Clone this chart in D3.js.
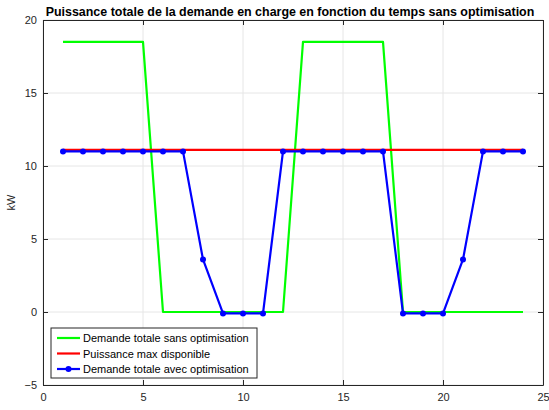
<!DOCTYPE html>
<html><head><meta charset="utf-8">
<script src="https://cdn.jsdelivr.net/npm/d3@7"></script>
<style>body{margin:0;background:#fff}svg{display:block}text{font-family:"Liberation Sans",Arial,sans-serif}</style>
</head><body><svg id="c" width="549" height="410"></svg>
<script>
const hours = [1,2,3,4,5,6,7,8,9,10,11,12,13,14,15,16,17,18,19,20,21,22,23,24];
const demandeSans = [18.5,18.5,18.5,18.5,18.5,0,0,0,0,0,0,0,18.5,18.5,18.5,18.5,18.5,0,0,0,0,0,0,0];
const puissanceMax = [11.1,11.1,11.1,11.1,11.1,11.1,11.1,11.1,11.1,11.1,11.1,11.1,11.1,11.1,11.1,11.1,11.1,11.1,11.1,11.1,11.1,11.1,11.1,11.1];
const demandeAvec = [11,11,11,11,11,11,11,3.6,-0.1,-0.1,-0.1,11,11,11,11,11,11,-0.1,-0.1,-0.1,3.6,11,11,11];
const xTicks = [0,5,10,15,20,25];
const yTicks = [-5,0,5,10,15,20];
const legendLabels = ["Demande totale sans optimisation","Puissance max disponible","Demande totale avec optimisation"];
const colors = ["#00ff00","#ff0000","#0000ff"];

const svg = d3.select("#c");
const L=43,R=543,T=20,B=385;
const x = d3.scaleLinear().domain([0,25]).range([L,R]);
const y = d3.scaleLinear().domain([-5,20]).range([B,T]);
const ax = "#262626";

// grid
const g = svg.append("g");
g.selectAll(".gx").data(xTicks).enter().append("line").attr("x1",d=>x(d)).attr("x2",d=>x(d)).attr("y1",T).attr("y2",B).attr("stroke","#e6e6e6").attr("stroke-width",1);
g.selectAll(".gy").data(yTicks).enter().append("line").attr("y1",d=>y(d)).attr("y2",d=>y(d)).attr("x1",L).attr("x2",R).attr("stroke","#e6e6e6").attr("stroke-width",1);

// lines
const line = d3.line().x((d,i)=>x(hours[i])).y(d=>y(d));
[demandeSans,puissanceMax,demandeAvec].forEach((s,k)=>{
  svg.append("path").datum(s).attr("d",line).attr("fill","none").attr("stroke",colors[k]).attr("stroke-width",2.2).attr("stroke-linejoin","round");
});
svg.selectAll(".pt").data(demandeAvec).enter().append("circle").attr("cx",(d,i)=>x(hours[i])).attr("cy",d=>y(d)).attr("r",3).attr("fill",colors[2]);

// axes
const xa = svg.append("g").attr("transform",`translate(0,${B})`).call(d3.axisBottom(x).tickValues(xTicks).tickSizeInner(-5).tickSizeOuter(0).tickPadding(8));
const ya = svg.append("g").attr("transform",`translate(${L},0)`).call(d3.axisLeft(y).tickValues(yTicks).tickSizeInner(-5).tickSizeOuter(0).tickPadding(6));
const xt = svg.append("g").attr("transform",`translate(0,${T})`).call(d3.axisTop(x).tickValues(xTicks).tickSizeInner(-5).tickSizeOuter(0).tickFormat(""));
const yr = svg.append("g").attr("transform",`translate(${R},0)`).call(d3.axisRight(y).tickValues(yTicks).tickSizeInner(-5).tickSizeOuter(0).tickFormat(""));
[xa,ya,xt,yr].forEach(a=>{a.selectAll("path,line").attr("stroke",ax);a.selectAll("text").attr("fill",ax).style("font-size","11px").style("font-family","Liberation Sans, Arial, sans-serif");});

// title & label
svg.append("text").attr("x",290).attr("y",16).attr("text-anchor","middle").style("font-weight","bold").style("font-size","12.45px").attr("fill","#000").text("Puissance totale de la demande en charge en fonction du temps sans optimisation");
svg.append("text").attr("transform",`translate(15,${(T+B)/2}) rotate(-90)`).attr("text-anchor","middle").style("font-size","11px").attr("fill",ax).text("kW");

// legend
const lg = svg.append("g");
lg.append("rect").attr("x",51).attr("y",328).attr("width",206).attr("height",50).attr("fill","#fff").attr("stroke",ax).attr("stroke-width",1);
legendLabels.forEach((t,i)=>{
  const yy = 338+i*15.5;
  lg.append("line").attr("x1",57).attr("x2",80).attr("y1",yy).attr("y2",yy).attr("stroke",colors[i]).attr("stroke-width",2.2);
  if(i===2) lg.append("circle").attr("cx",68.5).attr("cy",yy).attr("r",3).attr("fill",colors[i]);
  lg.append("text").attr("x",83).attr("y",yy+4).style("font-size","11px").attr("fill","#000").text(t);
});
</script></body></html>
